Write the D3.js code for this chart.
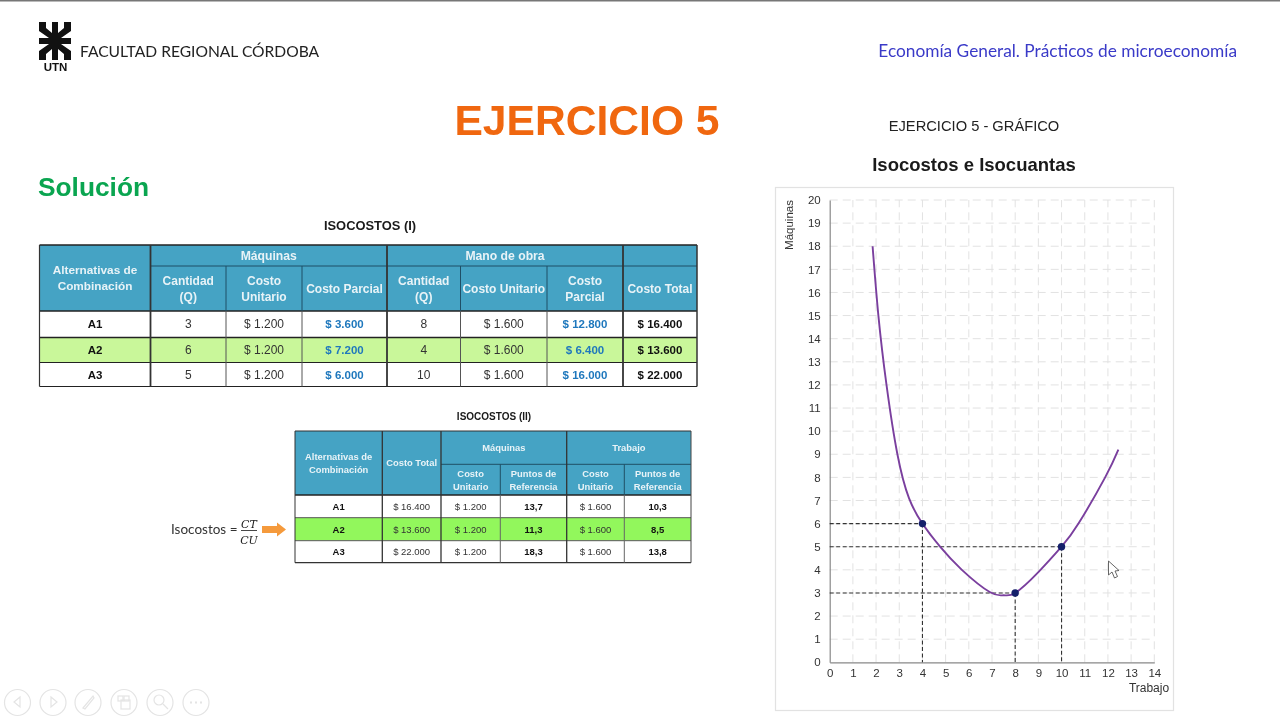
<!DOCTYPE html>
<html lang="es">
<head>
    <meta charset="UTF-8">
    <title>Ejercicio 5</title>
    <style>
        html, body { margin: 0; padding: 0; background: #fff; }
        svg { display: block; filter: blur(0.3px); }
        text { font-family: "Liberation Sans", Arial, sans-serif; }
        .lato { font-family: Lato, "Open Sans", sans-serif; }
    </style>
</head>
<body>
    <div id="chart"></div>
    <script src="https://d3js.org/d3.v7.min.js"></script>
    <script>
        // curve: x = trabajo, y = maquinas
        const curveX = [1.85, 2.1, 2.45, 2.92, 3.42, 4, 4.76, 5.7, 6.92, 7.5, 8, 9, 10, 10.73, 11.88, 12.45]
        const curveY = [18, 15, 12, 9, 7.1, 6, 5, 4, 3.03, 2.9, 3, 3.9, 5, 6, 8, 9.2]
        const pointX = [4, 8, 10]
        const pointY = [6, 3, 5]

        const table1Rows = ['A1', 'A2', 'A3']
        const table1MaqQ = ['3', '6', '5']
        const table1MaqCU = ['$ 1.200', '$ 1.200', '$ 1.200']
        const table1MaqCP = ['$ 3.600', '$ 7.200', '$ 6.000']
        const table1ObraQ = ['8', '4', '10']
        const table1ObraCU = ['$ 1.600', '$ 1.600', '$ 1.600']
        const table1ObraCP = ['$ 12.800', '$ 6.400', '$ 16.000']
        const table1Total = ['$ 16.400', '$ 13.600', '$ 22.000']

        const table2Total = ['$ 16.400', '$ 13.600', '$ 22.000']
        const table2MaqCU = ['$ 1.200', '$ 1.200', '$ 1.200']
        const table2MaqPR = ['13,7', '11,3', '18,3']
        const table2TrabCU = ['$ 1.600', '$ 1.600', '$ 1.600']
        const table2TrabPR = ['10,3', '8,5', '13,8']

        const svg = d3.select('#chart').append('svg')
            .attr('width', 1280)
            .attr('height', 720)

        svg.append('rect').attr('width', 1280).attr('height', 1.5).attr('fill', '#777')

        function label(parent, x, y, str, size, opts) {
            const o = opts || {}
            return parent.append('text')
                .attr('x', x)
                .attr('y', y)
                .attr('text-anchor', o.anchor || 'middle')
                .attr('font-size', size)
                .attr('font-weight', o.bold ? 'bold' : 'normal')
                .attr('fill', o.color || '#222')
                .attr('class', o.cls || null)
                .text(str)
        }

        // header
        const logo = svg.append('g').attr('fill', '#111')
        const logoShapes = [
            'M39,22 L46,22 L46,28 L52,33 L52,22 L58,22 L58,33 L64,28 L64,22 L71,22 L71,31 L61,38 L71,38 L71,44 L61,44 L71,51 L71,60 L64,60 L64,54 L58,49 L58,60 L52,60 L52,49 L46,54 L46,60 L39,60 L39,51 L49,44 L39,44 L39,38 L49,38 L39,31 Z'
        ]
        logo.selectAll('path').data(logoShapes).enter().append('path').attr('d', d => d)
        label(svg, 55.5, 71, 'UTN', 11.5, { bold: true, color: '#111' })
        label(svg, 80, 57, 'FACULTAD REGIONAL CÓRDOBA', 15.6, { anchor: 'start', cls: 'lato', color: '#222' })
        label(svg, 1237, 57, 'Economía General. Prácticos de microeconomía', 17.3, { anchor: 'end', cls: 'lato', color: '#3a3ac8' })
        label(svg, 587, 135, 'EJERCICIO 5', 42.6, { bold: true, color: '#f0670f' })
        label(svg, 38, 196, 'Solución', 26.3, { anchor: 'start', bold: true, color: '#0aa550' })
        label(svg, 974, 131, 'EJERCICIO 5 - GRÁFICO', 14.7, { color: '#222' })
        label(svg, 974, 171, 'Isocostos e Isocuantas', 18.5, { bold: true, color: '#1a1a1a' })

        // tables
        const headerFill = '#45a3c4'
        const headerText = '#e8f3f7'

        function hLine(x1, x2, y, color, w) {
            svg.append('line').attr('x1', x1).attr('x2', x2).attr('y1', y).attr('y2', y).attr('stroke', color).attr('stroke-width', w)
        }
        function vLine(x, y1, y2, color, w) {
            svg.append('line').attr('x1', x).attr('x2', x).attr('y1', y1).attr('y2', y2).attr('stroke', color).attr('stroke-width', w)
        }
        function multi(x, yMid, lines, size, gap, color) {
            lines.forEach((l, i) => {
                label(svg, x, yMid + size * 0.36 + (i - (lines.length - 1) / 2) * gap, l, size, { bold: true, color: color })
            })
        }

        // ISOCOSTOS (I)
        label(svg, 370, 230, 'ISOCOSTOS (I)', 12.9, { bold: true, color: '#1a1a1a' })
        const t1x = [39.5, 150.5, 226, 302, 387, 460.5, 547, 623, 697]
        const t1y = [245, 266, 311, 337.5, 362.5, 386.5]
        const t1Fill = ['#fff', '#c9f79a', '#fff']
        svg.append('rect').attr('x', t1x[0]).attr('y', t1y[0]).attr('width', t1x[8] - t1x[0]).attr('height', t1y[2] - t1y[0]).attr('fill', headerFill)
        table1Rows.forEach((r, i) => {
            svg.append('rect').attr('x', t1x[0]).attr('y', t1y[i + 2]).attr('width', t1x[8] - t1x[0]).attr('height', t1y[i + 3] - t1y[i + 2]).attr('fill', t1Fill[i])
            const yy = (t1y[i + 2] + t1y[i + 3]) / 2 + 4
            label(svg, (t1x[0] + t1x[1]) / 2, yy, r, 11.5, { bold: true, color: '#111' })
            label(svg, (t1x[1] + t1x[2]) / 2, yy, table1MaqQ[i], 12, { color: '#333' })
            label(svg, (t1x[2] + t1x[3]) / 2, yy, table1MaqCU[i], 12, { color: '#333' })
            label(svg, (t1x[3] + t1x[4]) / 2, yy, table1MaqCP[i], 11.5, { bold: true, color: '#1f78bd' })
            label(svg, (t1x[4] + t1x[5]) / 2, yy, table1ObraQ[i], 12, { color: '#333' })
            label(svg, (t1x[5] + t1x[6]) / 2, yy, table1ObraCU[i], 12, { color: '#333' })
            label(svg, (t1x[6] + t1x[7]) / 2, yy, table1ObraCP[i], 11.5, { bold: true, color: '#1f78bd' })
            label(svg, (t1x[7] + t1x[8]) / 2, yy, table1Total[i], 11.5, { bold: true, color: '#111' })
        })
        multi((t1x[0] + t1x[1]) / 2, 278, ['Alternativas de', 'Combinación'], 11.8, 16, headerText)
        multi((t1x[1] + t1x[4]) / 2, 255.5, ['Máquinas'], 12.2, 16, headerText)
        multi((t1x[4] + t1x[7]) / 2, 255.5, ['Mano de obra'], 12.2, 16, headerText)
        multi((t1x[1] + t1x[2]) / 2, 288.5, ['Cantidad', '(Q)'], 12, 16, headerText)
        multi((t1x[2] + t1x[3]) / 2, 288.5, ['Costo', 'Unitario'], 12, 16, headerText)
        multi((t1x[3] + t1x[4]) / 2, 288.5, ['Costo Parcial'], 12, 16, headerText)
        multi((t1x[4] + t1x[5]) / 2, 288.5, ['Cantidad', '(Q)'], 12, 16, headerText)
        multi((t1x[5] + t1x[6]) / 2, 288.5, ['Costo Unitario'], 12, 16, headerText)
        multi((t1x[6] + t1x[7]) / 2, 288.5, ['Costo', 'Parcial'], 12, 16, headerText)
        multi((t1x[7] + t1x[8]) / 2, 288.5, ['Costo Total'], 12, 16, headerText)

        hLine(t1x[1], t1x[8], t1y[1], '#1f4f66', 1)
        hLine(t1x[0], t1x[8], t1y[0], '#222', 1.5)
        t1y.slice(2).forEach(y => hLine(t1x[0], t1x[8], y, '#222', y === t1y[2] || y === t1y[3] ? 1.5 : 1.2))
        vLine(t1x[0], t1y[0], t1y[5], '#333', 1.2)
        vLine(t1x[8], t1y[0], t1y[5], '#333', 1.5)
        ;[t1x[1], t1x[4], t1x[7]].forEach(x => vLine(x, t1y[0], t1y[5], '#333', 1.8))
        ;[t1x[2], t1x[3], t1x[5], t1x[6]].forEach(x => {
            vLine(x, t1y[1], t1y[2], '#1f4f66', 1)
            vLine(x, t1y[2], t1y[5], '#555', 1)
        })

        // ISOCOSTOS (II)
        label(svg, 494, 420, 'ISOCOSTOS (II)', 10, { bold: true, color: '#1a1a1a' })
        const t2x = [295, 382.3, 441, 500.3, 566.7, 624.3, 691]
        const t2y = [431, 464.3, 495, 517.7, 540.7, 562.7]
        const t2Fill = ['#fff', '#92f75c', '#fff']
        svg.append('rect').attr('x', t2x[0]).attr('y', t2y[0]).attr('width', t2x[6] - t2x[0]).attr('height', t2y[2] - t2y[0]).attr('fill', headerFill)
        table1Rows.forEach((r, i) => {
            svg.append('rect').attr('x', t2x[0]).attr('y', t2y[i + 2]).attr('width', t2x[6] - t2x[0]).attr('height', t2y[i + 3] - t2y[i + 2]).attr('fill', t2Fill[i])
            const yy = (t2y[i + 2] + t2y[i + 3]) / 2 + 3.5
            label(svg, (t2x[0] + t2x[1]) / 2, yy, r, 9.5, { bold: true, color: '#111' })
            label(svg, (t2x[1] + t2x[2]) / 2, yy, table2Total[i], 9.5, { color: '#333' })
            label(svg, (t2x[2] + t2x[3]) / 2, yy, table2MaqCU[i], 9.5, { color: '#333' })
            label(svg, (t2x[3] + t2x[4]) / 2, yy, table2MaqPR[i], 9.5, { bold: true, color: '#111' })
            label(svg, (t2x[4] + t2x[5]) / 2, yy, table2TrabCU[i], 9.5, { color: '#333' })
            label(svg, (t2x[5] + t2x[6]) / 2, yy, table2TrabPR[i], 9.5, { bold: true, color: '#111' })
        })
        multi((t2x[0] + t2x[1]) / 2, 463, ['Alternativas de', 'Combinación'], 9.4, 13, headerText)
        multi((t2x[1] + t2x[2]) / 2, 463, ['Costo Total'], 9.4, 13, headerText)
        multi((t2x[2] + t2x[4]) / 2, 447.5, ['Máquinas'], 9.4, 13, headerText)
        multi((t2x[4] + t2x[6]) / 2, 447.5, ['Trabajo'], 9.4, 13, headerText)
        multi((t2x[2] + t2x[3]) / 2, 480, ['Costo', 'Unitario'], 9.4, 12.5, headerText)
        multi((t2x[3] + t2x[4]) / 2, 480, ['Puntos de', 'Referencia'], 9.4, 12.5, headerText)
        multi((t2x[4] + t2x[5]) / 2, 480, ['Costo', 'Unitario'], 9.4, 12.5, headerText)
        multi((t2x[5] + t2x[6]) / 2, 480, ['Puntos de', 'Referencia'], 9.4, 12.5, headerText)

        hLine(t2x[2], t2x[6], t2y[1], '#1f4f66', 1)
        hLine(t2x[0], t2x[6], t2y[0], '#333', 1)
        hLine(t2x[0], t2x[6], t2y[2], '#222', 1.3)
        hLine(t2x[0], t2x[6], t2y[3], '#555', 1)
        hLine(t2x[0], t2x[6], t2y[4], '#555', 1)
        hLine(t2x[0], t2x[6], t2y[5], '#333', 1.2)
        vLine(t2x[0], t2y[0], t2y[5], '#333', 1)
        vLine(t2x[6], t2y[0], t2y[5], '#444', 1)
        ;[t2x[1], t2x[2], t2x[4]].forEach(x => vLine(x, t2y[0], t2y[5], '#333', 1.3))
        ;[t2x[3], t2x[5]].forEach(x => {
            vLine(x, t2y[1], t2y[2], '#1f4f66', 1)
            vLine(x, t2y[2], t2y[5], '#666', 1)
        })

        // formula and arrow
        label(svg, 171, 534, 'Isocostos =', 13.5, { anchor: 'start', cls: 'lato', color: '#333' })
        svg.append('text').attr('x', 249).attr('y', 528).attr('text-anchor', 'middle').attr('font-size', 11)
            .attr('font-style', 'italic').attr('fill', '#222').style('font-family', '"DejaVu Serif", serif').text('CT')
        svg.append('line').attr('x1', 241).attr('x2', 257).attr('y1', 530.5).attr('y2', 530.5).attr('stroke', '#333').attr('stroke-width', 0.9)
        svg.append('text').attr('x', 249).attr('y', 544).attr('text-anchor', 'middle').attr('font-size', 11)
            .attr('font-style', 'italic').attr('fill', '#222').style('font-family', '"DejaVu Serif", serif').text('CU')
        svg.append('path').attr('d', 'M262,526 L277,526 L277,522.5 L286,529.5 L277,536.5 L277,533 L262,533 Z').attr('fill', '#f59a3c')

        // chart
        svg.append('rect').attr('x', 775.5).attr('y', 187.5).attr('width', 398).attr('height', 523)
            .attr('fill', '#fff').attr('stroke', '#e2e2e2').attr('stroke-width', 1.2)

        const x = d3.scaleLinear().domain([0, 14]).range([829.7, 1154.3])
        const y = d3.scaleLinear().domain([0, 20]).range([662.3, 200])

        const plot = svg.append('g')
        plot.append('g').selectAll('line').data(d3.range(1, 21)).enter().append('line')
            .attr('x1', x(0)).attr('x2', x(14)).attr('y1', d => y(d)).attr('y2', d => y(d))
            .attr('stroke', '#e2e2e2').attr('stroke-width', 1).attr('stroke-dasharray', '8,5')
        plot.append('g').selectAll('line').data(d3.range(1, 15)).enter().append('line')
            .attr('x1', d => x(d)).attr('x2', d => x(d)).attr('y1', y(0)).attr('y2', y(20))
            .attr('stroke', '#e2e2e2').attr('stroke-width', 1).attr('stroke-dasharray', '8,5')

        const axisY = d3.axisLeft(y).tickValues(d3.range(0, 21)).tickSize(0).tickPadding(9).tickFormat(d3.format('d'))
        const axisX = d3.axisBottom(x).tickValues(d3.range(0, 15)).tickSize(0).tickPadding(7).tickFormat(d3.format('d'))
        const gy = plot.append('g').attr('transform', `translate(${x(0)},0)`).call(axisY)
        const gx = plot.append('g').attr('transform', `translate(0,${y(0)})`).call(axisX)
        ;[gy, gx].forEach(g => {
            g.select('.domain').attr('stroke', '#888').attr('stroke-width', 1.2)
            g.selectAll('text').attr('font-size', 11.5).attr('fill', '#333').style('font-family', '"Liberation Sans", Arial, sans-serif')
        })

        // dashed guides
        pointX.forEach((px, i) => {
            plot.append('line').attr('x1', x(0)).attr('x2', x(px)).attr('y1', y(pointY[i])).attr('y2', y(pointY[i]))
                .attr('stroke', '#333').attr('stroke-width', 1.1).attr('stroke-dasharray', '4,2.5')
            plot.append('line').attr('x1', x(px)).attr('x2', x(px)).attr('y1', y(pointY[i])).attr('y2', y(0))
                .attr('stroke', '#333').attr('stroke-width', 1.1).attr('stroke-dasharray', '4,2.5')
        })

        const curve = d3.line().x(d => x(d[0])).y(d => y(d[1])).curve(d3.curveNatural)
        plot.append('path').datum(d3.zip(curveX, curveY)).attr('d', curve)
            .attr('fill', 'none').attr('stroke', '#7a3f9e').attr('stroke-width', 1.9)

        plot.append('g').selectAll('circle').data(d3.zip(pointX, pointY)).enter().append('circle')
            .attr('cx', d => x(d[0])).attr('cy', d => y(d[1])).attr('r', 3.7).attr('fill', '#15206b')

        label(svg, 1149, 692, 'Trabajo', 12, { color: '#333' })
        svg.append('text').attr('transform', 'translate(793,225) rotate(-90)').attr('text-anchor', 'middle')
            .attr('font-size', 11.5).attr('fill', '#333').text('Máquinas')

        // mouse cursor
        svg.append('path').attr('d', 'M1108.5,561 L1108.5,575 L1112,572 L1114.5,578 L1117.5,576.5 L1115,571 L1119,570.5 Z')
            .attr('fill', '#fff').attr('stroke', '#555').attr('stroke-width', 0.9)

        // slideshow controls
        const ctrl = svg.append('g').attr('fill', 'none').attr('stroke', '#e4e4e4').attr('stroke-width', 1.2)
        const ctrlX = [17.5, 53, 88, 124, 160, 196]
        ctrl.selectAll('circle').data(ctrlX).enter().append('circle')
            .attr('cx', d => d).attr('cy', 702.5).attr('r', 13)
        ctrl.append('path').attr('d', 'M20,697 L14,702 L20,707 Z')
        ctrl.append('path').attr('d', 'M51,697 L57,702 L51,707 Z')
        ctrl.append('path').attr('d', 'M83,708 L93,696 L94,698 L85,709 Z')
        ctrl.append('rect').attr('x', 118).attr('y', 696).attr('width', 5).attr('height', 5)
        ctrl.append('rect').attr('x', 124).attr('y', 696).attr('width', 5).attr('height', 5)
        ctrl.append('rect').attr('x', 121).attr('y', 700).attr('width', 9).attr('height', 9)
        ctrl.append('circle').attr('cx', 159).attr('cy', 700).attr('r', 5)
        ctrl.append('path').attr('d', 'M163,704 L168,709')
        ctrl.append('path').attr('d', 'M190,702.5 h2 M195,702.5 h2 M200,702.5 h2').attr('stroke-width', 2)
    </script>
</body>
</html>
